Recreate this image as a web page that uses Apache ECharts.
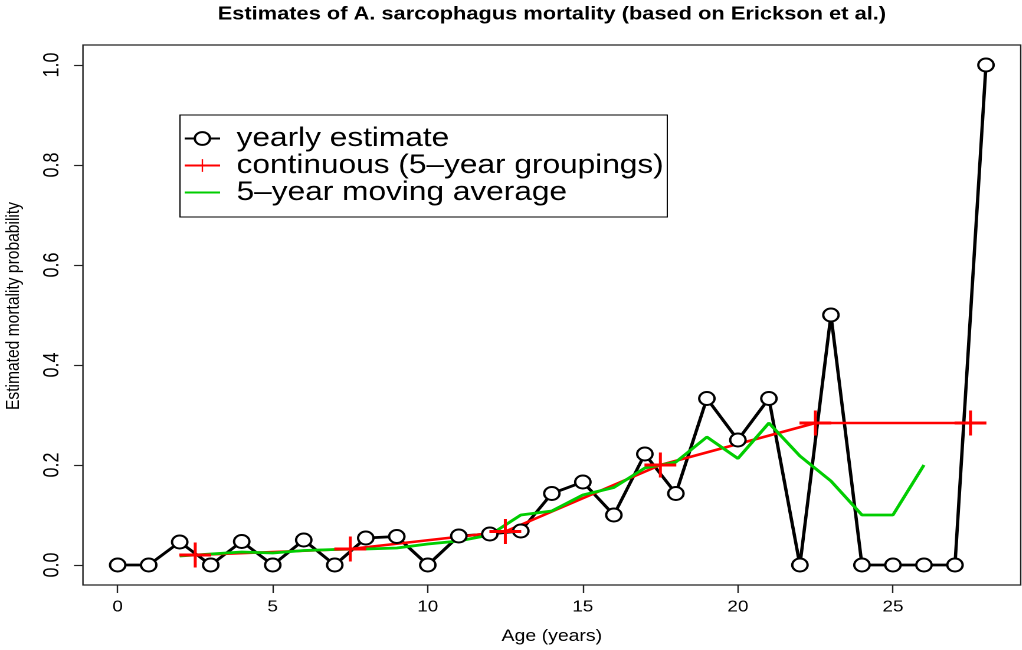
<!DOCTYPE html>
<html>
<head>
<meta charset="utf-8">
<script src="https://cdn.jsdelivr.net/npm/echarts@6/dist/echarts.min.js"></script>
<style>
  html, body { margin: 0; padding: 0; background: #fff; overflow: hidden; }
  /* the reference is a horizontally stretched R plot, so draw narrower and stretch */
  #main { width: 866px; height: 650px; transform: scaleX(1.18); transform-origin: 0 0; }
</style>
</head>
<body>
<div id="main"></div>
<script>
var FONT = "'Liberation Sans', Arial, Helvetica, sans-serif";

// yearly estimate, ages 0..28
var ages = [0,1,2,3,4,5,6,7,8,9,10,11,12,13,14,15,16,17,18,19,20,21,22,23,24,25,26,27,28];
var yearly = [0,0,0.046,0,0.047,0,0.05,0,0.054,0.057,0,0.058,0.062,0.068,0.143,0.166,0.1,0.222,0.143,0.333,0.25,0.333,0,0.5,0,0,0,0,1.0];

// continuous estimate, 5-year groupings (midpoints)
var groupAges = [2.5,7.5,12.5,17.5,22.5,27.5];
var groupVals = [0.02,0.032,0.067,0.2,0.284,0.284];

// 5-year moving average, ages 2..26
var maAges = [2,3,4,5,6,7,8,9,10,11,12,13,14,15,16,17,18,19,20,21,22,23,24,25,26];
var maVals = [0.018,0.022,0.026,0.024,0.029,0.031,0.032,0.034,0.042,0.048,0.06,0.1,0.108,0.14,0.155,0.194,0.206,0.256,0.213,0.284,0.218,0.168,0.1,0.1,0.2];

var xTicks = [0,5,10,15,20,25];
var yTicks = [0,0.2,0.4,0.6,0.8,1.0];

function pairs(xs, ys) {
  return xs.map(function (x, i) { return [x, ys[i]]; });
}

var plus = 'path://M0,11H27V14H0Z M12.25,0H14.75V25H12.25Z';

var chart = echarts.init(document.getElementById('main'), null, { renderer: 'canvas', devicePixelRatio: 2 });

chart.setOption({
  backgroundColor: '#fff',
  animation: false,
  title: {
    text: 'Estimates of A. sarcophagus mortality (based on Erickson et al.)',
    left: 467.7, textAlign: 'center', top: 5, padding: 0,
    textStyle: { fontFamily: FONT, fontSize: 18.5, fontWeight: 'bold', color: '#000' }
  },
  legend: {
    orient: 'vertical',
    left: 152.5, top: 115,
    padding: [10, 3, 11, 3],
    itemGap: 0,
    itemWidth: 30, itemHeight: 16,
    borderColor: '#000', borderWidth: 1, borderRadius: 0,
    backgroundColor: '#fff',
    selectedMode: false,
    textStyle: { fontFamily: FONT, fontSize: 26.8, lineHeight: 25.5, color: '#000', padding: [0, 0, 0, 9] },
    data: [
      'yearly estimate',
      'continuous (5\u2013year groupings)',
      { name: '5\u2013year moving average', itemStyle: { color: 'transparent', borderColor: 'transparent' } }
    ]
  },
  grid: {
    left: 70.3, right: 1, top: 45, bottom: 65,
    outerBoundsMode: 'none',
    show: true, borderColor: '#222', borderWidth: 1.2, backgroundColor: 'transparent'
  },
  xAxis: {
    type: 'value', min: -1.12, max: 29.12,
    name: 'Age (years)', nameLocation: 'middle', nameGap: 43,
    nameTextStyle: { fontFamily: FONT, fontSize: 16.5, color: '#000' },
    axisLine: { show: false, onZero: false },
    splitLine: { show: false },
    axisTick: { show: true, length: 8, customValues: xTicks, lineStyle: { color: '#222', width: 1.2 } },
    axisLabel: { customValues: xTicks, margin: 14, fontFamily: FONT, fontSize: 16, color: '#000' }
  },
  yAxis: {
    type: 'value', min: -0.04, max: 1.04,
    name: 'Estimated mortality probability', nameLocation: 'middle', nameGap: 50.5,
    nameTextStyle: { fontFamily: FONT, fontSize: 15.6, color: '#000', padding: [0, 0, 0, 18] },
    axisLine: { show: false, onZero: false },
    splitLine: { show: false },
    axisTick: { show: true, length: 7.6, customValues: yTicks, lineStyle: { color: '#222', width: 1.2 } },
    axisLabel: {
      customValues: yTicks, rotate: 90, margin: 17, fontFamily: FONT, fontSize: 18, color: '#000',
      formatter: function (v) { return v.toFixed(1); }
    }
  },
  series: [
    {
      name: 'yearly estimate', type: 'line',
      data: pairs(ages, yearly),
      symbol: 'emptyCircle', symbolSize: 13,
      lineStyle: { color: '#000', width: 2.8 },
      itemStyle: { color: '#000', borderColor: '#000', borderWidth: 2.5 }
    },
    {
      name: 'continuous (5\u2013year groupings)', type: 'line',
      data: pairs(groupAges, groupVals),
      symbol: plus, symbolSize: [27, 25],
      lineStyle: { color: '#ff0000', width: 2.6 },
      itemStyle: { color: '#ff0000' }
    },
    {
      name: '5\u2013year moving average', type: 'line',
      data: pairs(maAges, maVals),
      symbol: 'none',
      lineStyle: { color: '#00cd00', width: 2.8 },
      itemStyle: { color: '#00cd00' }
    }
  ]
});
</script>
</body>
</html>
